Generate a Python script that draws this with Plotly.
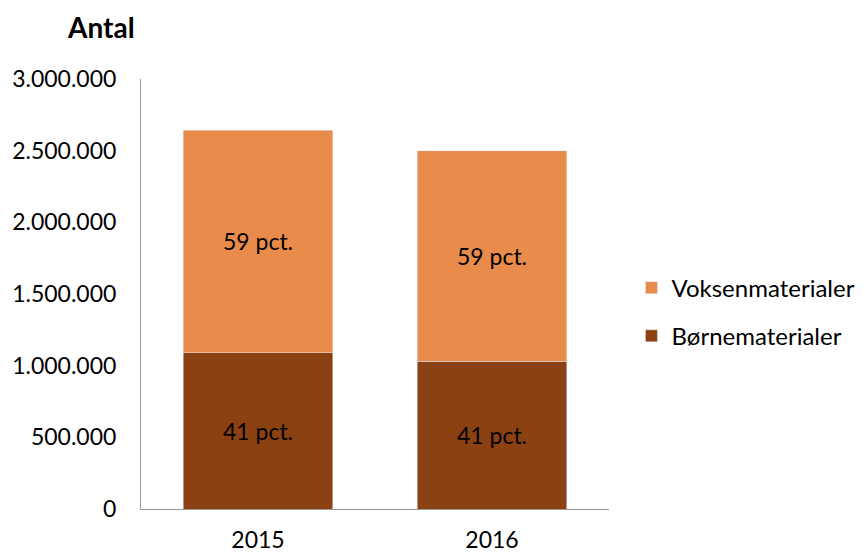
import plotly.graph_objects as go

years = ["2015", "2016"]
boern = [1090000, 1030000]
voksen = [1554000, 1468000]
boern_labels = ["41 pct.", "41 pct."]
voksen_labels = ["59 pct.", "59 pct."]
y_ticks = [0, 500000, 1000000, 1500000, 2000000, 2500000, 3000000]

FONT = "Lato"
FS = 23
fig = go.Figure()
fig.add_trace(go.Bar(
    x=years, y=boern, name="Børnematerialer", legendgroup="b", legendrank=2,
    marker=dict(color="#8B4112"), text=boern_labels, textposition="inside",
    insidetextanchor="middle", textfont=dict(color="black", size=FS, family=FONT),
))
fig.add_trace(go.Bar(
    x=years, y=voksen, name="Voksenmaterialer", legendgroup="v", legendrank=1,
    marker=dict(color="#E98C4B"), text=voksen_labels, textposition="inside",
    insidetextanchor="middle", textfont=dict(color="black", size=FS, family=FONT),
))
fig.update_layout(
    barmode="stack", bargap=0.36,
    width=857, height=546,
    margin=dict(l=133, r=256, t=71, b=45, autoexpand=False),
    plot_bgcolor="white", paper_bgcolor="white",
    separators=",.",
    font=dict(family=FONT, size=FS, color="black"),
    showlegend=True,
    legend=dict(traceorder="grouped", tracegroupgap=14,
                x=1.048, xanchor="left", y=0.458, yanchor="middle",
                font=dict(size=24, family=FONT)),
    uniformtext=dict(mode="show", minsize=10),
)
fig.update_yaxes(range=[0, 3000000], tickvals=y_ticks, tickformat=",d",
                 showgrid=False, showline=True, linecolor="#9a9a9a", linewidth=1,
                 ticks="", ticklabelstandoff=19, zeroline=False, automargin=False)
fig.update_xaxes(showline=True, linecolor="#9a9a9a", linewidth=1, ticks="",
                 ticklabelstandoff=10, automargin=False)
fig.add_annotation(text="<b>Antal</b>", xref="paper", yref="paper",
                   x=-0.009, y=1.0, yshift=52, xanchor="right", yanchor="middle",
                   showarrow=False, font=dict(size=28, family=FONT))
fig.write_html("out.html")
